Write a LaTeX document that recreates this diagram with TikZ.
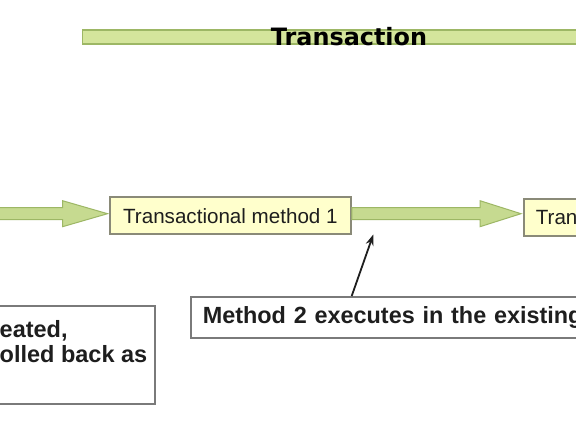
\documentclass[tikz,border=0pt]{standalone}
\usepackage{fontspec}
\setmainfont{Liberation Sans}
\newfontfamily\titlefont{DejaVu Sans}
\usetikzlibrary{calc,arrows.meta}
\definecolor{barfill}{HTML}{D4E59C}
\definecolor{barline}{HTML}{9DB765}
\definecolor{arrfill}{HTML}{C6DA90}
\definecolor{boxfill}{HTML}{FFFFCC}
\definecolor{boxline}{HTML}{8A8A78}
\definecolor{noteline}{HTML}{7A7A7A}
\definecolor{txt}{HTML}{1E1E1E}
\begin{document}
\begin{tikzpicture}[x=1pt,y=-1pt,
  methodbox/.style={draw=boxline,fill=boxfill,line width=1.7pt,rectangle,inner sep=0pt,
    font=\fontsize{20.6}{24}\selectfont,text=txt},
  notebox/.style={draw=noteline,fill=white,line width=1.7pt,rectangle,inner sep=0pt},
  notetext/.style={font=\bfseries\fontsize{23.5}{25}\selectfont,text=txt,inner sep=0pt},
  fatarrow/.style={draw=barline,fill=arrfill,line width=1pt,line join=miter},
  pointer/.style={-{Stealth[length=11pt,width=8pt]},line width=1.8pt,draw=txt}]
\useasboundingbox (0,0) rectangle (576,432);
\clip (0,0) rectangle (576,432);
\fill[white] (0,0) rectangle (576,432);

% top transaction bar
\node[draw=barline,fill=barfill,line width=1.4pt,minimum width=540pt,minimum height=14pt,
  anchor=west,inner sep=0pt] (bar) at (82,37) {};
\node[font=\titlefont\bfseries\fontsize{23.9}{26}\selectfont,text=black,anchor=base,inner sep=0pt]
  (title) at (349,45.7) {Transaction};

% method boxes
\node[methodbox,minimum width=241pt,minimum height=37pt] (m1) at (230.4,215.8)
  {Transactional method 1};
\node[methodbox,minimum height=37pt,anchor=west,inner xsep=12pt,text width=60pt,align=left]
  (m2) at (523,217.7) {Trans};

% fat arrows
\coordinate (ay) at (0,213.7);
\coordinate (a0) at (-10,213.7);
\draw[fatarrow] ($(a0)+(0,-6)$) -- ($(m1.west|-ay)+(-46.5,-6)$) -- ($(m1.west|-ay)+(-46.5,-13)$)
  -- ($(m1.west|-ay)+(-1.5,0)$) -- ($(m1.west|-ay)+(-46.5,13)$) -- ($(m1.west|-ay)+(-46.5,6)$)
  -- ($(a0)+(0,6)$) -- cycle;
\draw[fatarrow] ($(m1.east|-ay)+(0,-6)$) -- ($(m2.west|-ay)+(-43,-6)$) -- ($(m2.west|-ay)+(-43,-13)$)
  -- ($(m2.west|-ay)+(-2,0)$) -- ($(m2.west|-ay)+(-43,13)$) -- ($(m2.west|-ay)+(-43,6)$)
  -- ($(m1.east|-ay)+(0,6)$) -- cycle;

% left note box
\node[notebox,minimum width=170pt,minimum height=98pt,anchor=north east] (lb) at (155.7,305) {};
\node[notetext,anchor=base west] (l1) at (-0.5,337) {eated,};
\node[notetext,anchor=base west] (l2) at (-0.5,362) {olled back as};

% right note box
\node[notebox,minimum height=41pt,anchor=north west,inner xsep=12pt,text width=400pt,align=left,
  font=\bfseries\fontsize{23.4}{26}\selectfont,text=txt] (rb) at (190,296)
  {Method 2 executes in the existing};

% pointer
\coordinate (tip) at (373.3,234.5);
\coordinate (tail) at ($(rb.north west)+(161.7,0)$);
\draw[pointer] (tail) -- (tip);
\end{tikzpicture}
\end{document}
